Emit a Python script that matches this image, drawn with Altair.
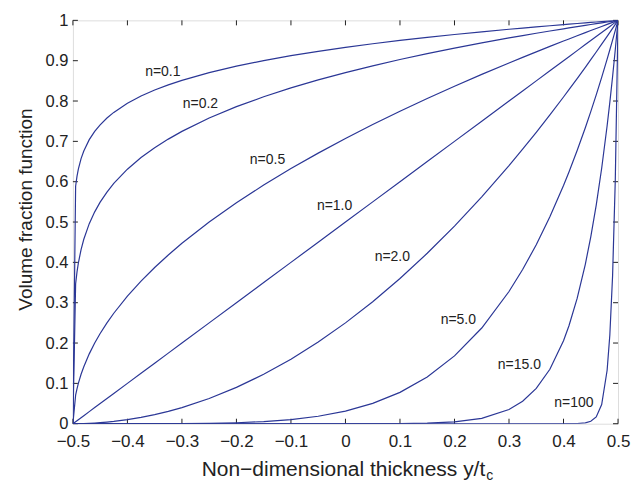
import altair as alt
import pandas as pd

# x positions (y/t_c) shared by all curves
x_vals = [-0.5, -0.495, -0.4925, -0.49, -0.485, -0.48, -0.47, -0.46, -0.45, -0.4375, -0.425,
          -0.4, -0.375, -0.35, -0.325, -0.3, -0.25, -0.2, -0.15, -0.1, -0.05, 0.0, 0.05, 0.1,
          0.15, 0.2, 0.25, 0.3, 0.325, 0.35, 0.375, 0.4, 0.41, 0.425, 0.44, 0.45, 0.46, 0.47,
          0.48, 0.485, 0.49, 0.495, 0.5]

v_n01 = [0, 0.5887, 0.6131, 0.6310, 0.6571, 0.6762, 0.7043, 0.7248, 0.7411, 0.7579, 0.7718,
         0.7943, 0.8123, 0.8272, 0.8400, 0.8513, 0.8706, 0.8866, 0.9003, 0.9124, 0.9233,
         0.9330, 0.9420, 0.9502, 0.9578, 0.9650, 0.9716, 0.9779, 0.9809, 0.9839, 0.9867,
         0.9895, 0.9906, 0.9922, 0.9938, 0.9949, 0.9959, 0.9970, 0.9980, 0.9985, 0.9990,
         0.9995, 1]
v_n02 = [0, 0.3466, 0.3759, 0.3981, 0.4318, 0.4573, 0.4960, 0.5253, 0.5493, 0.5743, 0.5957,
         0.6310, 0.6598, 0.6842, 0.7056, 0.7248, 0.7579, 0.7860, 0.8106, 0.8326, 0.8524,
         0.8706, 0.8873, 0.9029, 0.9174, 0.9311, 0.9441, 0.9564, 0.9622, 0.9680, 0.9736,
         0.9791, 0.9813, 0.9845, 0.9877, 0.9898, 0.9919, 0.9939, 0.9960, 0.9970, 0.9980,
         0.9990, 1]
v_n05 = [0, 0.0707, 0.0866, 0.1, 0.1225, 0.1414, 0.1732, 0.2, 0.2236, 0.25, 0.2739, 0.3162,
         0.3536, 0.3873, 0.4183, 0.4472, 0.5, 0.5477, 0.5916, 0.6325, 0.6708, 0.7071, 0.7416,
         0.7746, 0.8062, 0.8367, 0.8660, 0.8944, 0.9083, 0.9220, 0.9354, 0.9487, 0.9539,
         0.9618, 0.9695, 0.9747, 0.9798, 0.9849, 0.9899, 0.9925, 0.9950, 0.9975, 1]
v_n1 = [0, 0.005, 0.0075, 0.01, 0.015, 0.02, 0.03, 0.04, 0.05, 0.0625, 0.075, 0.1, 0.125,
        0.15, 0.175, 0.2, 0.25, 0.3, 0.35, 0.4, 0.45, 0.5, 0.55, 0.6, 0.65, 0.7, 0.75, 0.8,
        0.825, 0.85, 0.875, 0.9, 0.91, 0.925, 0.94, 0.95, 0.96, 0.97, 0.98, 0.985, 0.99,
        0.995, 1]
v_n2 = [0, 0.000025, 0.0000563, 0.0001, 0.000225, 0.0004, 0.0009, 0.0016, 0.0025, 0.0039,
        0.005625, 0.01, 0.015625, 0.0225, 0.030625, 0.04, 0.0625, 0.09, 0.1225, 0.16, 0.2025,
        0.25, 0.3025, 0.36, 0.4225, 0.49, 0.5625, 0.64, 0.6806, 0.7225, 0.7656, 0.81, 0.8281,
        0.8556, 0.8836, 0.9025, 0.9216, 0.9409, 0.9604, 0.9702, 0.9801, 0.9900, 1]
v_n5 = [0, 0, 0, 0, 0, 0, 0, 0, 0, 0, 0, 0.00001, 0.00003, 0.000076, 0.00016, 0.00032,
        0.00098, 0.00243, 0.00525, 0.01024, 0.01845, 0.03125, 0.05033, 0.07776, 0.1160,
        0.1681, 0.2373, 0.3277, 0.3822, 0.4437, 0.5129, 0.5905, 0.6240, 0.6772, 0.7339,
        0.7738, 0.8154, 0.8587, 0.9039, 0.9272, 0.9510, 0.9752, 1]
v_n15 = [0, 0, 0, 0, 0, 0, 0, 0, 0, 0, 0, 0, 0, 0, 0, 0, 0, 0, 0, 0, 0, 0.00003, 0.00013,
         0.00047, 0.00156, 0.00475, 0.01336, 0.03518, 0.0558, 0.0874, 0.1349, 0.2059, 0.2430,
         0.3106, 0.3953, 0.4633, 0.5421, 0.6333, 0.7386, 0.7972, 0.8601, 0.9276, 1]
v_n100 = [0, 0, 0, 0, 0, 0, 0, 0, 0, 0, 0, 0, 0, 0, 0, 0, 0, 0, 0, 0, 0, 0, 0, 0, 0, 0, 0,
          0, 0, 0, 0, 0, 0.00008, 0.00041, 0.00205, 0.00592, 0.01687, 0.04755, 0.1326,
          0.2206, 0.3660, 0.6057, 1]

series_names = ["n=0.1", "n=0.2", "n=0.5", "n=1.0", "n=2.0", "n=5.0", "n=15.0", "n=100"]
series_vals = [v_n01, v_n02, v_n05, v_n1, v_n2, v_n5, v_n15, v_n100]

# label anchors (data units)
label_x = [-0.335, -0.266, -0.143, -0.020, 0.086, 0.207, 0.319, 0.419]
label_y = [0.871, 0.792, 0.653, 0.540, 0.413, 0.257, 0.146, 0.052]

x_ticks = [-0.5, -0.4, -0.3, -0.2, -0.1, 0.0, 0.1, 0.2, 0.3, 0.4, 0.5]
y_ticks = [0, 0.1, 0.2, 0.3, 0.4, 0.5, 0.6, 0.7, 0.8, 0.9, 1]

rows = []
for name, vals in zip(series_names, series_vals):
    for xv, yv in zip(x_vals, vals):
        rows.append({"n": name, "x": xv, "v": yv})
df = pd.DataFrame(rows)
lab_df = pd.DataFrame({"label": series_names, "x": label_x, "y": label_y})
xt_df = pd.DataFrame({"t": x_ticks})
yt_df = pd.DataFrame({"t": y_ticks})

W, H = 546, 404
LINE = "#2b3796"
TXT = "#222222"
FONT = "Liberation Sans"

xscale = alt.Scale(domain=[-0.5, 0.5], nice=False, zero=False)
yscale = alt.Scale(domain=[0, 1], nice=False, zero=False)

x_axis = alt.Axis(values=x_ticks, grid=False, domain=False, ticks=False, labelPadding=10,
                  labelFlush=False, labelFontSize=17, labelColor=TXT, labelFont=FONT, title=None,
                  labelExpr="datum.value == 0 ? '0' : format(datum.value, '.1f')")
y_axis = alt.Axis(values=y_ticks, grid=False, domain=False, ticks=False, labelPadding=5,
                  labelFlush=False, labelFontSize=16.5, labelColor=TXT, labelFont=FONT,
                  title="Volume fraction function", titleFontSize=19, titleFont=FONT,
                  titleColor=TXT, titleFontWeight="normal", titleX=-41, titleY=189,
                  titleBaseline="alphabetic", titleAngle=270, titleAlign="center",
                  labelExpr="(datum.value == 0 || datum.value == 1) ? format(datum.value, 'd') : format(datum.value, '.1f')")

lines = alt.Chart(df).mark_line(color=LINE, strokeWidth=1.2, clip=True).encode(
    x=alt.X("x:Q", scale=xscale, axis=x_axis),
    y=alt.Y("v:Q", scale=yscale, axis=y_axis),
    detail="n:N",
    order=alt.Order("x:Q"),
)

labels = alt.Chart(lab_df).mark_text(fontSize=14, font=FONT, color=TXT,
                                     align="center", baseline="middle").encode(
    x=alt.X("x:Q", scale=xscale), y=alt.Y("y:Q", scale=yscale), text="label:N")

tick_len = 5
xt_bottom = alt.Chart(xt_df).mark_rule(color=TXT, strokeWidth=1).encode(
    x=alt.X("t:Q", scale=xscale), y=alt.value(H), y2=alt.value(H - tick_len))
xt_top = alt.Chart(xt_df).mark_rule(color=TXT, strokeWidth=1).encode(
    x=alt.X("t:Q", scale=xscale), y=alt.value(0), y2=alt.value(tick_len))
yt_left = alt.Chart(yt_df).mark_rule(color=TXT, strokeWidth=1).encode(
    y=alt.Y("t:Q", scale=yscale), x=alt.value(0), x2=alt.value(tick_len))
yt_right = alt.Chart(yt_df).mark_rule(color=TXT, strokeWidth=1).encode(
    y=alt.Y("t:Q", scale=yscale), x=alt.value(W), x2=alt.value(W - tick_len))

xtitle = alt.Chart(pd.DataFrame({"s": ["Non\u2212dimensional thickness y/t"]})).mark_text(
    fontSize=21, font=FONT, color=TXT, align="center", baseline="alphabetic").encode(
    x=alt.value(271), y=alt.value(456), text="s:N")
xsub = alt.Chart(pd.DataFrame({"s": ["c"]})).mark_text(
    fontSize=14, font=FONT, color=TXT, align="left", baseline="alphabetic").encode(
    x=alt.value(414), y=alt.value(460), text="s:N")

chart = alt.layer(xt_bottom, xt_top, yt_left, yt_right, lines, labels, xtitle, xsub).properties(
    width=W, height=H,
    autosize=alt.AutoSizeParams(type="none"),
    padding={"left": 65, "top": 12, "right": 18, "bottom": 60},
).configure_view(stroke=TXT, strokeWidth=1).configure(background="white")

chart.save("out.html", embed_options={"renderer": "svg", "actions": False})
